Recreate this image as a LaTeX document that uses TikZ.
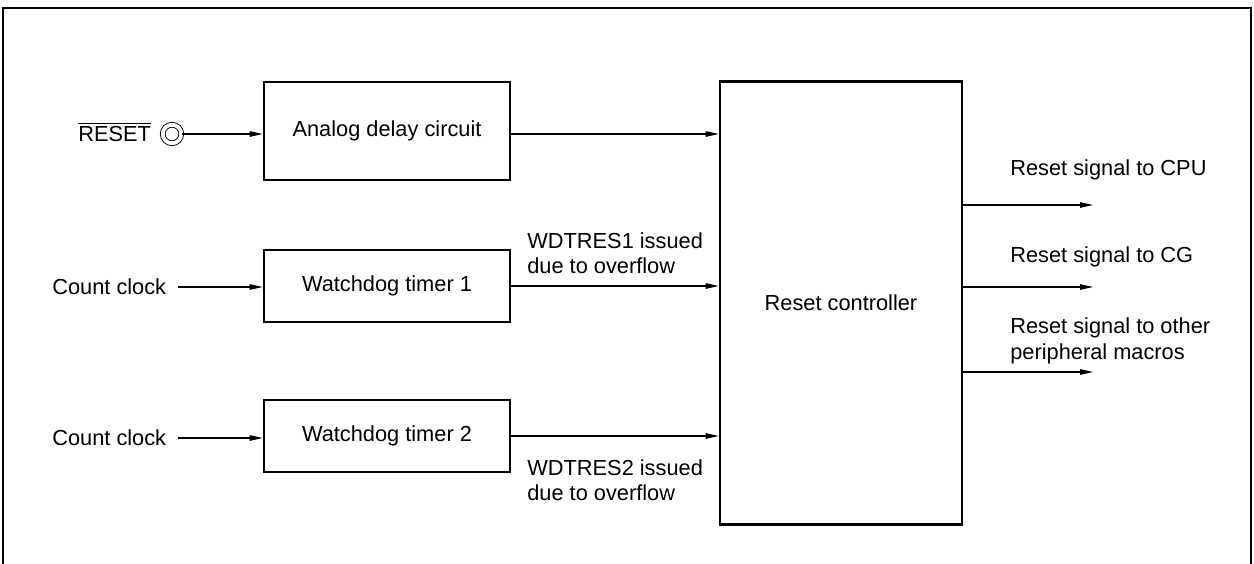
\documentclass[tikz,border=0pt]{standalone}
\usepackage{fontspec}
\setmainfont{Liberation Sans}
\usetikzlibrary{arrows.meta, positioning}

\tikzset{
  block/.style={draw, line width=1.5pt, minimum width=4.92cm, minimum height=1.96cm, inner sep=0pt},
  sig/.style={line width=0.6pt, -{Triangle[length=2.6mm, width=1.1mm]}},
  lbl/.style={anchor=west, inner sep=0pt, align=left},
}

\begin{document}
\begin{tikzpicture}[x=0.02cm, y=-0.02cm, font=\fontsize{12.4}{14.5}\selectfont]
  \useasboundingbox (0,0) rectangle (1254,564);
  % outer frame, open at the bottom
  \draw[line width=0.6pt] (3,564) -- (3,8) -- (1251,8) -- (1251,564);
  \draw[line width=1.4pt] (3,8) -- (1251,8);

  % blocks
  \node[block] (adc) at (387,131) {Analog delay circuit};
  \node[block, minimum height=1.44cm] (wdt1) at (387,286) {Watchdog timer 1};
  \node[block, minimum height=1.44cm] (wdt2) at (387,436) {Watchdog timer 2};
  \node[block, minimum width=4.84cm, minimum height=8.86cm] (ctrl) at (841,303) {Reset controller};

  % inputs
  \node[lbl] (rst) at (78,132) {$\overline{\mbox{RESET}}$};
  \node[draw, circle, double, double distance=2.2pt, line width=0.5pt, minimum size=0.37cm, inner sep=0pt] (pin) at (172,134) {};
  \node[lbl] (clk1) at (52,287) {Count clock};
  \node[lbl] (clk2) at (52,438) {Count clock};

  \draw[sig] (pin) -- (adc.west |- pin);
  \draw[sig] (clk1.east) ++(11,0) coordinate (c1) -- (wdt1.west |- c1);
  \draw[sig] (clk2.east) ++(11,0) coordinate (c2) -- (wdt2.west |- c2);

  % into the controller
  \draw[sig] (adc.east |- pin) coordinate (a0) -- (ctrl.west |- a0);
  \draw[sig] (wdt1.east) -- (ctrl.west |- wdt1.east);
  \draw[sig] (wdt2.east) -- (ctrl.west |- wdt2.east);
  \node[lbl] (res1) at (527,253) {WDTRES1 issued\\due to overflow};
  \node[lbl] (res2) at (527,480) {WDTRES2 issued\\due to overflow};

  % outputs
  \coordinate (o1) at (1093,205);
  \coordinate (o2) at (1093,287);
  \coordinate (o3) at (1093,372);
  \foreach \o in {o1, o2, o3}
    \draw[sig] (ctrl.east |- \o) -- (\o);
  \node[lbl] (cpu) at (1010,170) {Reset signal to CPU};
  \node[lbl] (cg) at (1010,257) {Reset signal to CG};
  \node[lbl] (per) at (1010,341) {Reset signal to other\\peripheral macros};
\end{tikzpicture}
\end{document}
